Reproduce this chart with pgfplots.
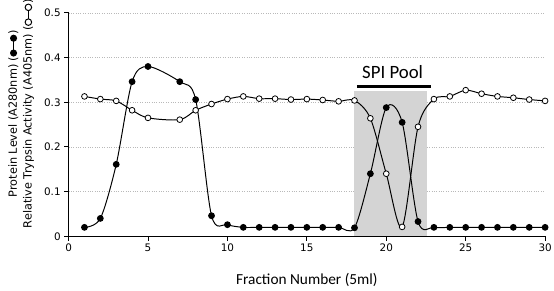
\documentclass[border=0pt]{standalone}
\usepackage{pgfplots}
\pgfplotsset{compat=1.18}
\usepackage{fontspec}
\setmainfont{DejaVu Sans}
\newfontfamily\calib{Carlito}

\definecolor{poolgrey}{RGB}{212,212,212}
\definecolor{gridgrey}{RGB}{185,185,185}

\newsavebox\filledkey
\newsavebox\openkey

\begin{document}
\sbox\filledkey{\tikz[baseline=-0.6ex]{\draw[line width=1.2pt] (0,0)--(15pt,0); \fill (0,0) circle (3.6pt) (15pt,0) circle (3.6pt);}}
\sbox\openkey{\tikz[baseline=-0.6ex]{\draw[line width=1.2pt] (0,0)--(15pt,0); \filldraw[fill=white, line width=1pt] (0,0) circle (3.3pt) (15pt,0) circle (3.3pt);}}
\begin{tikzpicture}
\begin{axis}[
  at={(0,0)}, anchor=south west,
  scale only axis, width=482pt, height=226pt,
  xmin=0, xmax=30, ymin=0, ymax=0.5,
  axis x line*=bottom, axis y line*=left,
  axis line style={line width=0.9pt},
  xtick={0,5,10,15,20,25,30},
  ytick={0,0.1,0.2,0.3,0.4,0.5},
  yticklabels={0,0.1,0.2,0.3,0.4,0.5},
  tick align=outside, major tick length=4.5pt,
  tick style={black, line width=0.9pt},
  ymajorgrids, grid style={gridgrey, dotted, line width=0.6pt},
  ticklabel style={font=\fontsize{10.5}{12}\selectfont},
  /pgf/number format/assume math mode=true,
  xlabel={Fraction Number (5ml)},
  xlabel style={font=\calib\fontsize{15.5}{17}\selectfont, at={(axis description cs:0.5,0)}, anchor=center, yshift=-44pt},
  clip=false,
]
% pooled fractions
\addplot[draw=none, fill=poolgrey] coordinates {(18,0.325) (22.57,0.325)} \closedcycle;
\addplot[line width=3.5pt, no marks] coordinates {(18.15,0.335) (22.8,0.335)};
\node[font=\calib\fontsize{19}{22}\selectfont] at (axis cs:20.4,0.368) {SPI Pool};

% trypsin activity (A405nm)
\addplot[black, line width=1pt, smooth, mark=*, mark size=2.9pt, mark options={fill=white, line width=0.8pt}] coordinates {
(1,0.313) (2,0.307) (3,0.303) (4,0.282) (5,0.265) (7,0.261) (8,0.282) (9,0.296) (10,0.307)
(11,0.313) (12,0.308) (13,0.308) (14,0.306) (15,0.307) (16,0.305) (17,0.302) (18,0.304)
(19,0.264) (20,0.140) (21,0.021) (22,0.245) (23,0.307) (24,0.313) (25,0.327) (26,0.319)
(27,0.313) (28,0.310) (29,0.306) (30,0.303)};

% protein level (A280nm)
\addplot[black, line width=1pt, smooth, mark=*, mark size=2.9pt, mark options={fill=black}] coordinates {
(1,0.020) (2,0.040) (3,0.161) (4,0.346) (5,0.380) (7,0.346) (8,0.306) (9,0.046) (10,0.026)
(11,0.020) (12,0.020) (13,0.020) (14,0.020) (15,0.020) (16,0.020) (17,0.020) (18,0.019)
(19,0.140) (20,0.288) (21,0.255) (22,0.033) (23,0.020) (24,0.020) (25,0.020) (26,0.020)
(27,0.020) (28,0.020) (29,0.020) (30,0.020)};
\end{axis}
\node[rotate=90, align=center, font=\fontsize{11.4}{15}\selectfont] at (-48pt,124pt)
  {Protein Level (A280nm) (\usebox\filledkey)\\Relative Trypsin Activity (A405nm) (\usebox\openkey)};
\pgfresetboundingbox
\path[use as bounding box] (-63pt,-55pt) rectangle (491pt,239pt);
\end{tikzpicture}
\end{document}
